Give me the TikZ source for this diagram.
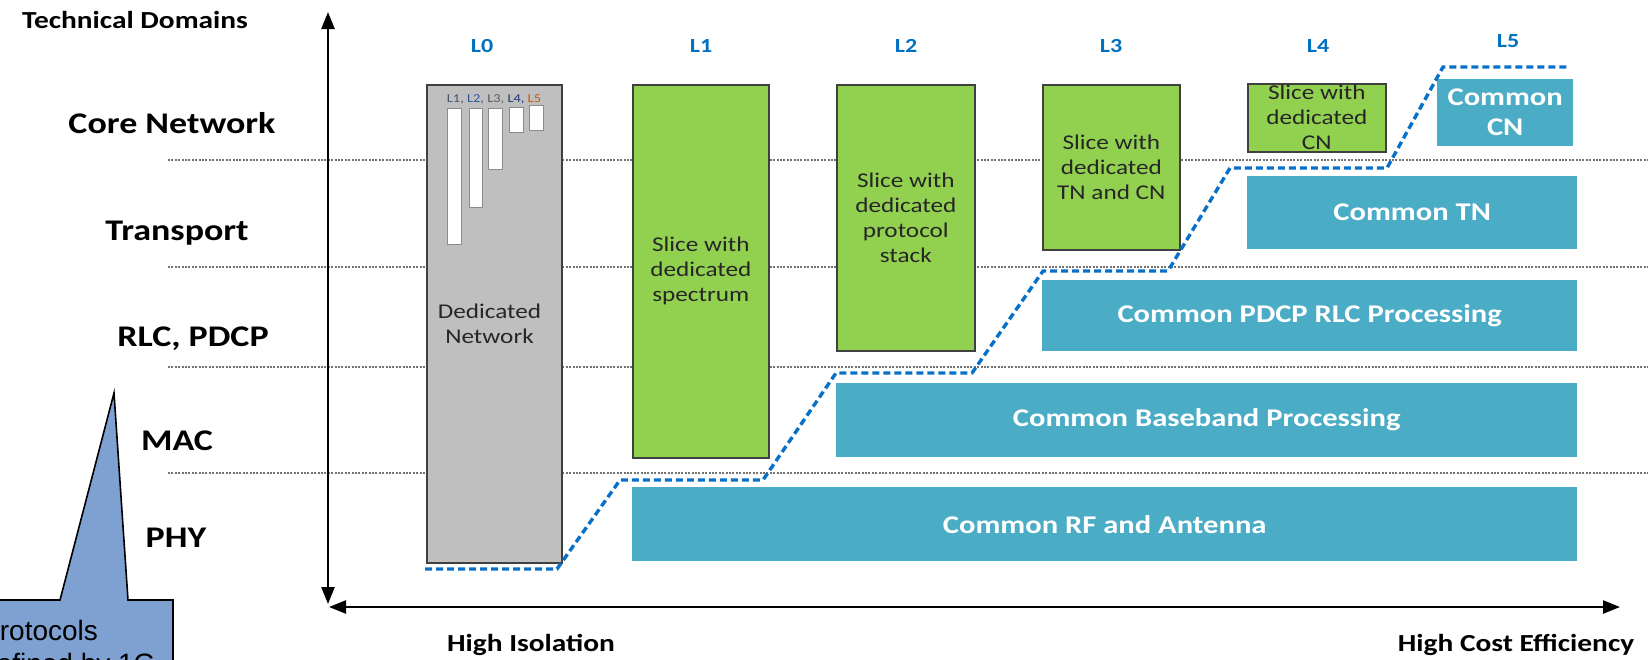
\documentclass[tikz,border=0pt]{standalone}
\usepackage{fontspec}
\setmainfont{Carlito}[FakeStretch=1.2]
\newfontfamily\calloutfont{Liberation Sans}
\usetikzlibrary{arrows.meta}

\definecolor{slicegreen}{RGB}{146,208,80}
\definecolor{isogray}{RGB}{191,191,191}
\definecolor{commonblue}{RGB}{75,172,198}
\definecolor{levelblue}{RGB}{0,112,192}
\definecolor{pathblue}{RGB}{8,112,200}
\definecolor{edgegray}{RGB}{64,64,64}
\definecolor{calloutblue}{RGB}{126,161,210}
\definecolor{miniA}{RGB}{68,84,106}
\definecolor{miniB}{RGB}{47,85,151}
\definecolor{miniC}{RGB}{89,89,89}
\definecolor{miniD}{RGB}{31,56,120}
\definecolor{miniE}{RGB}{197,90,17}

\tikzset{
  axisline/.style={line width=2.4pt, {Triangle[length=17pt,width=13pt]}-{Triangle[length=17pt,width=13pt]}},
  rowsep/.style={line width=1.2pt, draw=black!55, dash pattern=on 2pt off 1.4pt},
  domainlabel/.style={font=\bfseries\fontsize{30}{36}\selectfont, anchor=base, inner sep=0pt},
  cornerlabel/.style={font=\bfseries\fontsize{24.5}{28}\selectfont, anchor=base, inner sep=0pt},
  levellabel/.style={font=\bfseries\fontsize{20}{24}\selectfont, text=levelblue, anchor=base, inner sep=0pt},
  slicebox/.style={draw=edgegray, line width=1.6pt, fill=slicegreen, anchor=north west, inner sep=0pt},
  isobox/.style={draw=edgegray, line width=2pt, fill=isogray, anchor=north west, inner sep=0pt},
  commonbox/.style={fill=commonblue, anchor=north west, inner sep=0pt},
  minibar/.style={draw=black!45, line width=1pt, fill=white, anchor=north west, inner sep=0pt},
  boxtext/.style={align=center, font=\fontsize{21}{25}\selectfont, text=black!85, inner sep=0pt},
  commontext/.style={align=center, font=\bfseries\fontsize{25.5}{30}\selectfont, text=white, inner sep=0pt},
  stairs/.style={draw=pathblue, line width=3.4pt, dash pattern=on 7pt off 4pt},
  callouttxt/.style={font=\calloutfont\fontsize{28}{33}\selectfont, anchor=base west, inner sep=0pt},
}

\begin{document}
\begin{tikzpicture}[x=1pt,y=-1pt]
\useasboundingbox (0,0) rectangle (1648,659);
\clip (0,0) rectangle (1648,659);

% layer separators
\foreach \yy in {160,267,367,473}
  \draw[rowsep] (168,\yy) -- (1648,\yy);

% axes
\coordinate (ybot) at (328,604);
\coordinate (ytop) at (328,12);
\coordinate (xleft) at (329,607);
\coordinate (xright) at (1620,607);
\draw[axisline] (ybot) -- (ytop);
\draw[axisline] (xleft) -- (xright);

% axis captions
\node[cornerlabel] (techdom) at (135,28) {Technical Domains};
\node[cornerlabel] (highiso) at (531,651) {High Isolation};
\node[cornerlabel] (highcost) at (1516,651) {High Cost Efficiency};

% technical domains
\node[domainlabel] (dcn)   at (172,133) {Core Network};
\node[domainlabel] (dtn)   at (177,240) {Transport};
\node[domainlabel] (drlc)  at (193,346) {RLC, PDCP};
\node[domainlabel] (dmac)  at (177,450) {MAC};
\node[domainlabel] (dphy)  at (176,547) {PHY};

% isolation levels
\node[levellabel] (lz) at (482,52) {L0};
\node[levellabel] (la) at (701,52) {L1};
\node[levellabel] (lb) at (906,52) {L2};
\node[levellabel] (lc) at (1111,52) {L3};
\node[levellabel] (ld) at (1318,52) {L4};
\node[levellabel] (le) at (1508,47) {L5};

% L0: dedicated network
\node[isobox, minimum width=135pt, minimum height=478pt] (iso) at (426,84) {};
\node[boxtext] (isotext) at ([xshift=-5pt]iso.center) {Dedicated\\Network};
\node[minibar, minimum width=14pt, minimum height=136pt] (barA) at (447,108) {};
\node[minibar, minimum width=13pt, minimum height=99pt]  (barB) at (469,108) {};
\node[minibar, minimum width=14pt, minimum height=61pt]  (barC) at (488,108) {};
\node[minibar, minimum width=14pt, minimum height=25pt]  (barD) at (509,107) {};
\node[minibar, minimum width=14pt, minimum height=25pt]  (barE) at (529,105) {};
\node[font=\fontsize{12}{14}\selectfont, anchor=base, inner sep=0pt] (minilbl) at (494,102)
  {\textcolor{miniA}{L1,} \textcolor{miniB}{L2,} \textcolor{miniC}{L3,} \textcolor{miniD}{L4,} \textcolor{miniE}{L5}};

% dedicated slices
\node[slicebox, minimum width=136pt, minimum height=373pt] (sa) at (632,84) {};
\node[boxtext] (satext) at (sa.center) {Slice with\\dedicated\\spectrum};
\node[slicebox, minimum width=138pt, minimum height=266pt] (sb) at (836,84) {};
\node[boxtext] (sbtext) at (sb.center) {Slice with\\dedicated\\protocol\\stack};
\node[slicebox, minimum width=137pt, minimum height=165pt] (sc) at (1042,84) {};
\node[boxtext] (sctext) at (sc.center) {Slice with\\dedicated\\TN and CN};
\node[slicebox, minimum width=138pt, minimum height=68pt] (sd) at (1247,83) {};
\node[boxtext] (sdtext) at ([yshift=1pt]sd.center) {Slice with\\dedicated\\CN};

% shared functions
\node[commonbox, minimum width=945pt, minimum height=74pt] (crf) at (632,487) {};
\node[commontext] (crftext) at (crf.center) {Common RF and Antenna};
\node[commonbox, minimum width=741pt, minimum height=74pt] (cbb) at (836,383) {};
\node[commontext] (cbbtext) at (cbb.center) {Common Baseband Processing};
\node[commonbox, minimum width=535pt, minimum height=71pt] (cpd) at (1042,280) {};
\node[commontext] (cpdtext) at (cpd.center) {Common PDCP RLC Processing};
\node[commonbox, minimum width=330pt, minimum height=73pt] (ctn) at (1247,176) {};
\node[commontext] (ctntext) at (ctn.center) {Common TN};
\node[commonbox, minimum width=136pt, minimum height=67pt] (ccn) at (1437,79) {};
\node[commontext] (ccntext) at (ccn.center) {Common\\CN};

% sharing boundary
\coordinate (p0) at (425,569);
\coordinate (p1) at (557,569);
\coordinate (p2) at (620,480);
\coordinate (p3) at (763,480);
\coordinate (p4) at (836,373);
\coordinate (p5) at (972,373);
\coordinate (p6) at (1043,271);
\coordinate (p7) at (1168,271);
\coordinate (p8) at (1230,168);
\coordinate (p9) at (1387,168);
\coordinate (p10) at (1443,67);
\coordinate (p11) at (1567,67);
\draw[stairs] (p0) -- (p1) -- (p2) -- (p3) -- (p4) -- (p5) -- (p6) -- (p7)
  -- (p8) -- (p9) -- (p10) -- (p11);

% callout
\coordinate (tip) at (114,393);
\draw[fill=calloutblue, line width=1.6pt] (-20,600) -- (60,600) -- (tip) -- (128,600)
  -- (173,600) -- (173,720) -- (-20,720) -- cycle;
\node[callouttxt] (calloutA) at (-19,640) {Protocols};
\node[callouttxt] (calloutB) at (-19,673) {defined by 1G};
\end{tikzpicture}
\end{document}
